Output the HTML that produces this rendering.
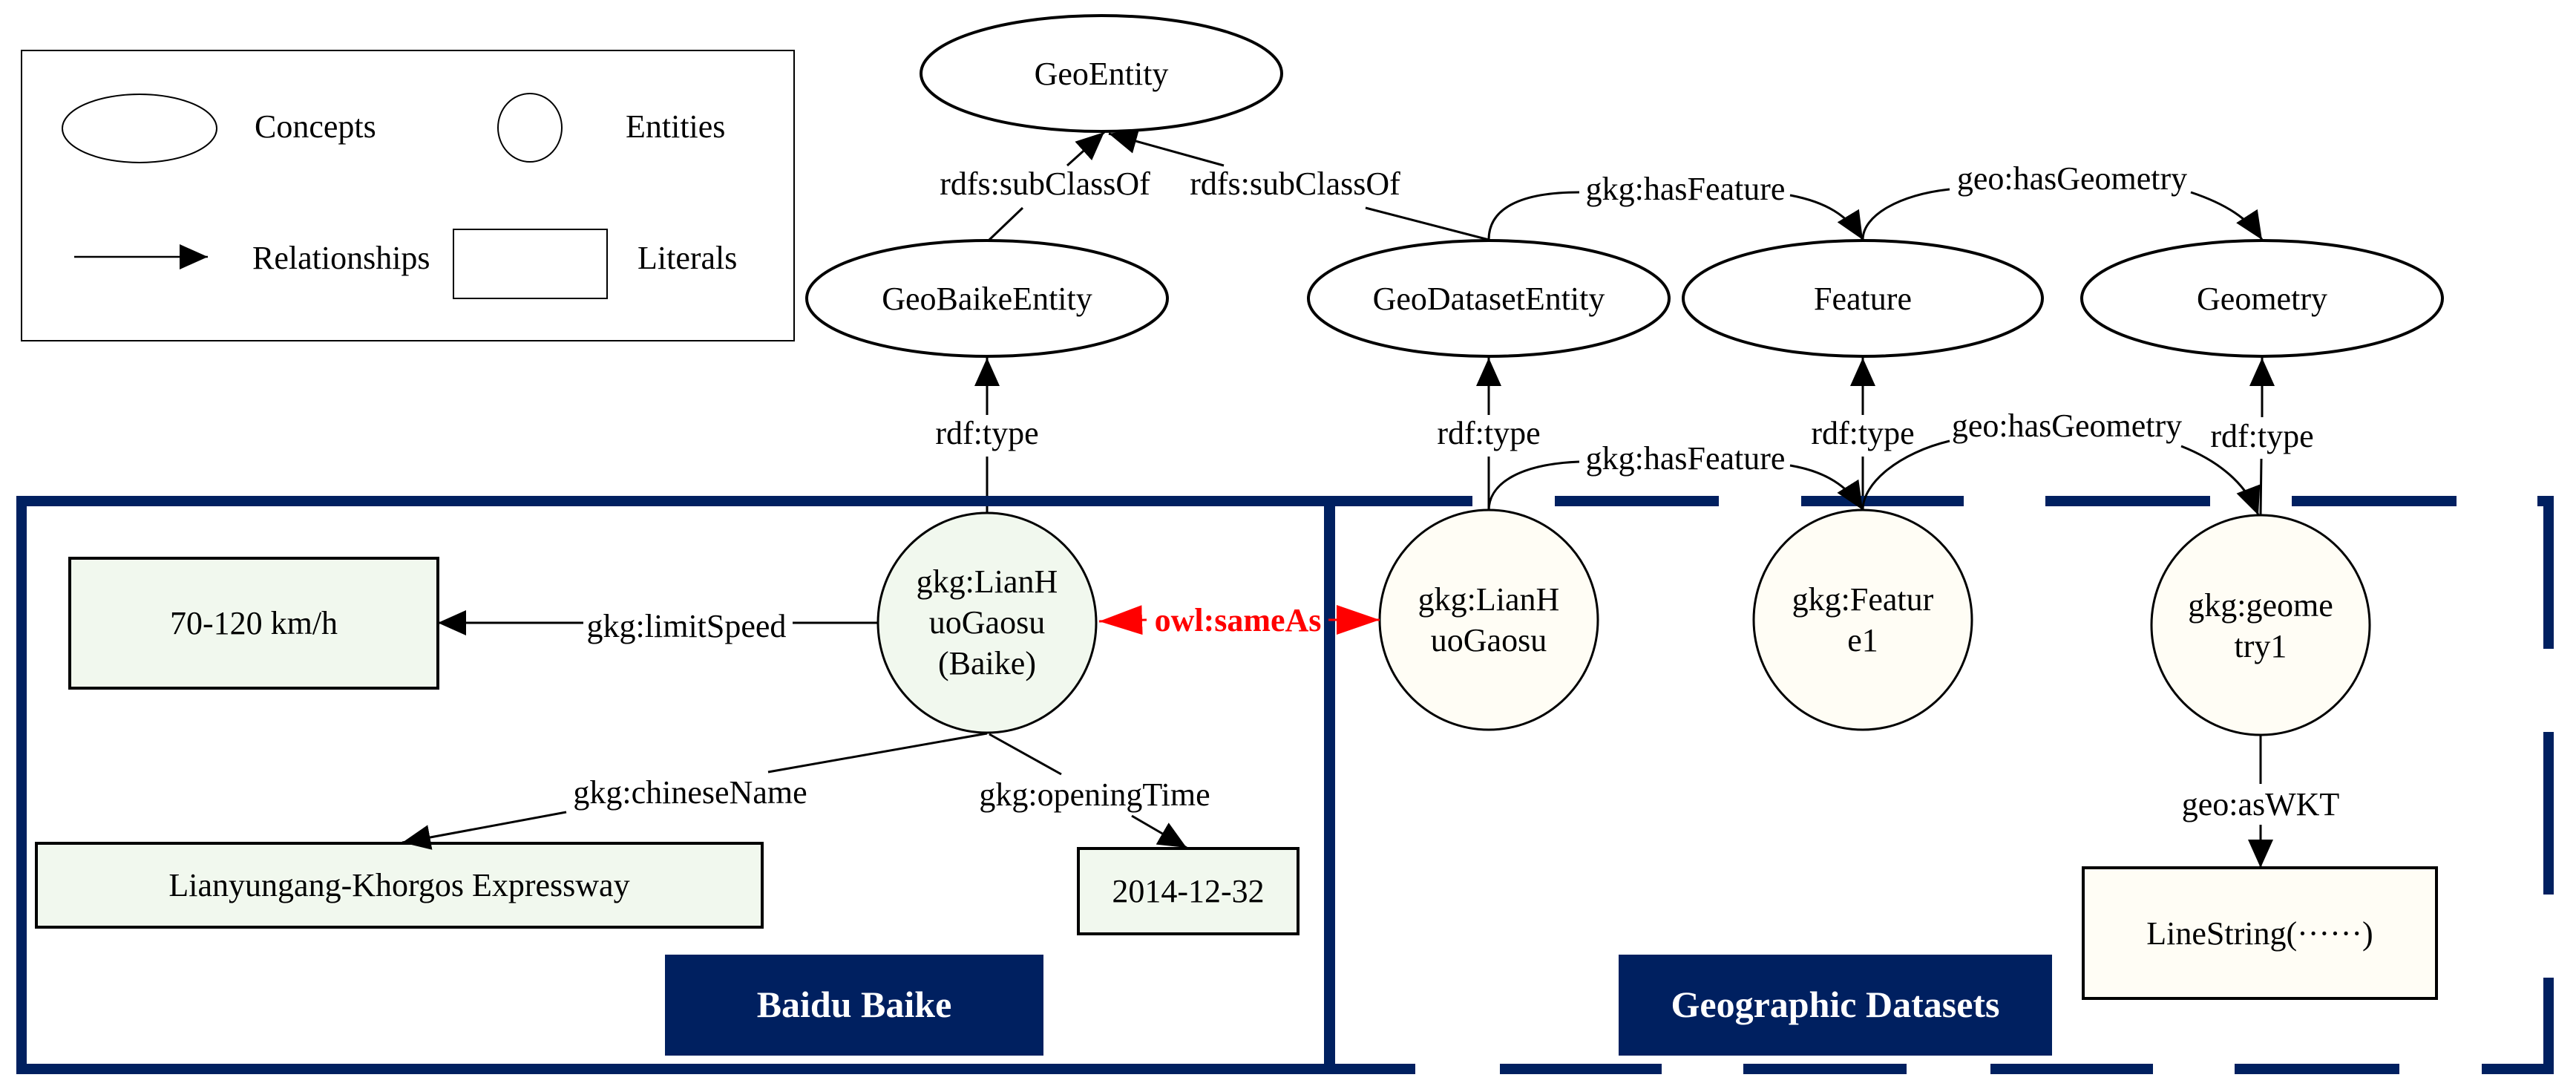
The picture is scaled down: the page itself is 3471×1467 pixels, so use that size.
<!DOCTYPE html>
<html><head><meta charset="utf-8"><style>
html,body{margin:0;padding:0;background:#fff;}
svg{display:block;}
text{font-family:"Liberation Serif",serif;font-size:44px;fill:#000;}
</style></head><body>
<svg width="3471" height="1467" viewBox="0 0 3471 1467" xmlns="http://www.w3.org/2000/svg">
<defs>
<marker id="a" markerUnits="userSpaceOnUse" markerWidth="40" markerHeight="34" refX="38" refY="17" orient="auto"><path d="M0,0 L38,17 L0,34 Z" fill="#000"/></marker>
<marker id="r" markerUnits="userSpaceOnUse" markerWidth="60" markerHeight="40" refX="58" refY="20" orient="auto"><path d="M0,0 L58,20 L0,40 Z" fill="#f00"/></marker>
</defs>

<!-- Legend -->
<rect x="29" y="68" width="1041" height="391" fill="none" stroke="#000" stroke-width="2"/>
<ellipse cx="188" cy="173" rx="104" ry="46" fill="none" stroke="#000" stroke-width="2"/>
<text x="343" y="185">Concepts</text>
<ellipse cx="714" cy="172" rx="43" ry="46" fill="none" stroke="#000" stroke-width="2"/>
<text x="843" y="185">Entities</text>
<line x1="100" y1="346" x2="280" y2="346" stroke="#000" stroke-width="2.5" marker-end="url(#a)"/>
<text x="340" y="362">Relationships</text>
<rect x="611" y="309" width="207" height="93" fill="none" stroke="#000" stroke-width="2"/>
<text x="859" y="362">Literals</text>

<!-- Concept ellipses -->
<g fill="#fff" stroke="#000" stroke-width="4">
<ellipse cx="1484" cy="99" rx="243" ry="78"/>
<ellipse cx="1330" cy="402" rx="243" ry="78"/>
<ellipse cx="2006" cy="402" rx="243" ry="78"/>
<ellipse cx="2510" cy="402" rx="242" ry="78"/>
<ellipse cx="3048" cy="402" rx="243" ry="78"/>
</g>
<g text-anchor="middle">
<text x="1484" y="114">GeoEntity</text>
<text x="1330" y="417">GeoBaikeEntity</text>
<text x="2006" y="417">GeoDatasetEntity</text>
<text x="2510" y="417">Feature</text>
<text x="3048" y="417">Geometry</text>
</g>

<!-- subClassOf -->
<g stroke="#000" stroke-width="3" fill="none">
<line x1="1333" y1="323" x2="1378" y2="280"/>
<line x1="1438" y1="223" x2="1488" y2="178" marker-end="url(#a)"/>
<line x1="2006" y1="323" x2="1840" y2="280"/>
<line x1="1649" y1="223" x2="1494" y2="180" marker-end="url(#a)"/>
</g>
<text x="1408" y="262" text-anchor="middle">rdfs:subClassOf</text>
<text x="1745" y="262" text-anchor="middle">rdfs:subClassOf</text>

<!-- upper curves -->
<g stroke="#000" stroke-width="3" fill="none">
<path d="M2006,323 C2006,280 2050,259 2128,259"/>
<path d="M2412,263 C2460,272 2490,290 2510,323" marker-end="url(#a)"/>
<path d="M2510,323 C2510,290 2560,262 2627,255"/>
<path d="M2952,259 C3000,275 3030,295 3048,323" marker-end="url(#a)"/>
</g>
<text x="2271" y="269" text-anchor="middle">gkg:hasFeature</text>
<text x="2792" y="255" text-anchor="middle">geo:hasGeometry</text>

<!-- rdf:type -->
<g stroke="#000" stroke-width="3" fill="none">
<line x1="1330" y1="559" x2="1330" y2="482" marker-end="url(#a)"/>
<line x1="1330" y1="615" x2="1330" y2="691"/>
<line x1="2006" y1="559" x2="2006" y2="482" marker-end="url(#a)"/>
<line x1="2006" y1="615" x2="2006" y2="688"/>
<line x1="2510" y1="559" x2="2510" y2="482" marker-end="url(#a)"/>
<line x1="2510" y1="615" x2="2510" y2="688"/>
<line x1="3048" y1="562" x2="3048" y2="482" marker-end="url(#a)"/>
<line x1="3047" y1="618" x2="3046" y2="694"/>
</g>
<g text-anchor="middle">
<text x="1330" y="598">rdf:type</text>
<text x="2006" y="598">rdf:type</text>
<text x="2510" y="598">rdf:type</text>
<text x="3048" y="602">rdf:type</text>
</g>

<!-- Frames -->
<g stroke="#002060" stroke-width="14" fill="none">
<rect x="29" y="675" width="1763" height="765"/>
</g>
<g stroke="#002060" stroke-width="14">
<line x1="1785" y1="675" x2="1984" y2="675"/>
<line x1="2095" y1="675" x2="2316" y2="675"/>
<line x1="2427" y1="675" x2="2646" y2="675"/>
<line x1="2756" y1="675" x2="2978" y2="675"/>
<line x1="3088" y1="675" x2="3310" y2="675"/>
<line x1="3419" y1="675" x2="3441" y2="675"/>
<line x1="1785" y1="1440" x2="1907" y2="1440"/>
<line x1="2021" y1="1440" x2="2239" y2="1440"/>
<line x1="2349" y1="1440" x2="2569" y2="1440"/>
<line x1="2682" y1="1440" x2="2901" y2="1440"/>
<line x1="3011" y1="1440" x2="3233" y2="1440"/>
<line x1="3344" y1="1440" x2="3441" y2="1440"/>
<line x1="3434" y1="668" x2="3434" y2="874"/>
<line x1="3434" y1="986" x2="3434" y2="1205"/>
<line x1="3434" y1="1317" x2="3434" y2="1447"/>
<line x1="1791" y1="668" x2="1791" y2="1447"/>
</g>

<!-- Entity nodes -->
<g stroke="#000" stroke-width="3">
<ellipse cx="1330" cy="839" rx="147" ry="148" fill="#f1f8ee"/>
<ellipse cx="2006" cy="835" rx="147" ry="148" fill="#fffdf5"/>
<ellipse cx="2510" cy="835" rx="147" ry="148" fill="#fffdf5"/>
<ellipse cx="3046" cy="842" rx="147" ry="148" fill="#fffdf5"/>
</g>
<g text-anchor="middle">
<text x="1330" y="798">gkg:LianH</text>
<text x="1330" y="853">uoGaosu</text>
<text x="1330" y="908">(Baike)</text>
<text x="2006" y="822">gkg:LianH</text>
<text x="2006" y="877">uoGaosu</text>
<text x="2510" y="822">gkg:Featur</text>
<text x="2510" y="877">e1</text>
<text x="3046" y="830">gkg:geome</text>
<text x="3046" y="885">try1</text>
</g>

<!-- lower curves -->
<g stroke="#000" stroke-width="3" fill="none">
<path d="M2006,688 C2006,650 2050,625 2128,622"/>
<path d="M2412,627 C2460,635 2490,655 2510,687" marker-end="url(#a)"/>
<path d="M2510,687 C2510,650 2560,610 2627,594"/>
<path d="M2939,601 C3000,625 3030,660 3043,694" marker-end="url(#a)"/>
</g>
<text x="2271" y="632" text-anchor="middle">gkg:hasFeature</text>
<text x="2785" y="588" text-anchor="middle">geo:hasGeometry</text>

<!-- Literals -->
<g stroke="#000" stroke-width="4">
<rect x="94" y="752" width="496" height="175" fill="#f1f8ee"/>
<rect x="49" y="1136" width="978" height="113" fill="#f1f8ee"/>
<rect x="1453" y="1143" width="296" height="115" fill="#f1f8ee"/>
<rect x="2807" y="1169" width="476" height="176" fill="#fffdf5"/>
</g>
<g text-anchor="middle">
<text x="342" y="854">70-120 km/h</text>
<text x="538" y="1207">Lianyungang-Khorgos Expressway</text>
<text x="1601" y="1215">2014-12-32</text>
<text x="3045" y="1272">LineString(······)</text>
</g>

<!-- Baike edges -->
<g stroke="#000" stroke-width="3" fill="none">
<line x1="1184" y1="839" x2="1068" y2="839"/>
<line x1="786" y1="839" x2="590" y2="839" marker-end="url(#a)"/>
<line x1="1330" y1="988" x2="1035" y2="1040"/>
<line x1="763" y1="1094" x2="542" y2="1135" marker-end="url(#a)"/>
<line x1="1333" y1="989" x2="1430" y2="1043"/>
<line x1="1525" y1="1099" x2="1599" y2="1142" marker-end="url(#a)"/>
<line x1="3046" y1="990" x2="3046" y2="1056"/>
<line x1="3046" y1="1111" x2="3046" y2="1169" marker-end="url(#a)"/>
</g>
<text x="925" y="858" text-anchor="middle">gkg:limitSpeed</text>
<text x="930" y="1082" text-anchor="middle">gkg:chineseName</text>
<text x="1475" y="1085" text-anchor="middle">gkg:openingTime</text>
<text x="3046" y="1098" text-anchor="middle">geo:asWKT</text>

<!-- sameAs -->
<line x1="1545" y1="835" x2="1481" y2="837" stroke="#f00" stroke-width="3" marker-end="url(#r)"/>
<line x1="1790" y1="835" x2="1859" y2="835" stroke="#f00" stroke-width="3" marker-end="url(#r)"/>
<text x="1668" y="850" text-anchor="middle" style="fill:#f00;font-weight:bold;">owl:sameAs</text>

<!-- Labels boxes -->
<rect x="896" y="1286" width="510" height="136" fill="#002060"/>
<text x="1151" y="1370" text-anchor="middle" style="fill:#fff;font-weight:bold;font-size:50px;">Baidu Baike</text>
<rect x="2181" y="1286" width="584" height="136" fill="#002060"/>
<text x="2473" y="1370" text-anchor="middle" style="fill:#fff;font-weight:bold;font-size:50px;">Geographic Datasets</text>
</svg>
</body></html>
